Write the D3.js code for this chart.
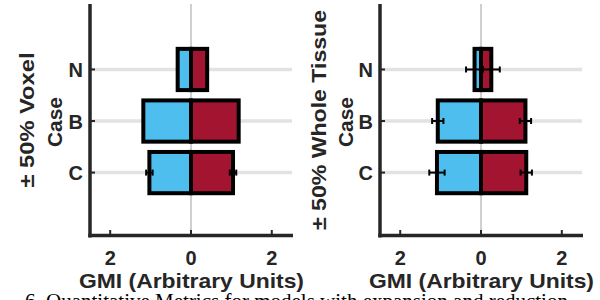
<!DOCTYPE html>
<html>
<head>
<meta charset="utf-8">
<script src="https://cdn.jsdelivr.net/npm/d3@7"></script>
<style>
  body { margin:0; background:#fff; }
  svg { display:block; }
  text { font-family: "Liberation Sans", Arial, sans-serif; font-weight:bold; fill:#262626; }
</style>
</head>
<body>
<svg id="board" width="600" height="300"></svg>
<script>
// data
var cases = ["N", "B", "C"];
var xTicks = [-2, 0, 2];

// left panel : +/- 50% voxel
var voxelLow = [-0.33, -1.18, -1.03];
var voxelHigh = [0.40, 1.18, 1.04];
var voxelLowErr = [0, 0, 0.08];
var voxelHighErr = [0, 0, 0.08];

// right panel : +/- 50% whole tissue
var tissueLow = [-0.16, -1.07, -1.09];
var tissueHigh = [0.255, 1.10, 1.12];
var tissueLowErr = [0.21, 0.14, 0.19];
var tissueHighErr = [0.21, 0.14, 0.14];

var captionText = "6. Quantitative Metrics for models with expansion and reduction";

var blue = "#4DBEEE", red = "#A2142F", ink = "#262626";
var board = d3.select("#board");

function drawPanel(p)
{
  var g = board.append("g");
  var x = d3.scaleLinear().domain([-2.5, 2.5]).range([p.left, p.right]);
  var y = d3.scaleLinear().domain([-1.27, 3.23]).range([4, 236]);
  var half = 0.4;

  // grid lines
  g.selectAll("line.grid").data(cases).enter().append("line")
    .attr("class", "grid")
    .attr("x1", p.left).attr("x2", p.right)
    .attr("y1", function(d, i){ return y(i); })
    .attr("y2", function(d, i){ return y(i); })
    .attr("stroke", "#e2e2e2").attr("stroke-width", 3.5);

  // zero line
  g.append("line")
    .attr("x1", x(0)).attr("x2", x(0))
    .attr("y1", 4).attr("y2", 236)
    .attr("stroke", "#a0a0a0").attr("stroke-width", 1);

  var sides = [
    {vals: p.low, err: p.lowErr, color: blue},
    {vals: p.high, err: p.highErr, color: red}
  ];
  sides.forEach(function(s)
  {
    g.selectAll(null).data(s.vals).enter().append("rect")
      .attr("x", function(d){ return Math.min(x(d), x(0)); })
      .attr("width", function(d){ return Math.abs(x(d) - x(0)); })
      .attr("y", function(d, i){ return y(i - half); })
      .attr("height", y(2 * half) - y(0))
      .attr("fill", s.color)
      .attr("stroke", "#000").attr("stroke-width", 4);
  });

  // error bars
  sides.forEach(function(s)
  {
    s.vals.forEach(function(v, i)
    {
      var e = s.err[i];
      if (e <= 0) return;
      var yy = y(i);
      g.append("line")
        .attr("x1", x(v - e)).attr("x2", x(v + e))
        .attr("y1", yy).attr("y2", yy)
        .attr("stroke", "#000").attr("stroke-width", 2);
      [v - e, v + e].forEach(function(c)
      {
        g.append("line")
          .attr("x1", x(c)).attr("x2", x(c))
          .attr("y1", yy - 3).attr("y2", yy + 3)
          .attr("stroke", "#000").attr("stroke-width", 2);
      });
    });
  });

  // axes
  g.append("line")
    .attr("x1", p.left).attr("x2", p.left).attr("y1", 4).attr("y2", 237.5)
    .attr("stroke", ink).attr("stroke-width", 3.5);
  g.append("line")
    .attr("x1", p.left - 1.75).attr("x2", p.right + 1).attr("y1", 235.5).attr("y2", 235.5)
    .attr("stroke", ink).attr("stroke-width", 3.5);

  // ticks
  g.selectAll(null).data(xTicks).enter().append("line")
    .attr("x1", function(d){ return x(d); }).attr("x2", function(d){ return x(d); })
    .attr("y1", 230).attr("y2", 234)
    .attr("stroke", ink).attr("stroke-width", 2);
  g.selectAll(null).data(cases).enter().append("line")
    .attr("x1", p.left + 1).attr("x2", p.left + 5)
    .attr("y1", function(d, i){ return y(i); }).attr("y2", function(d, i){ return y(i); })
    .attr("stroke", ink).attr("stroke-width", 2);

  // tick labels
  g.selectAll(null).data(xTicks).enter().append("text")
    .attr("x", function(d){ return x(d); }).attr("y", 264.5)
    .attr("text-anchor", "middle").style("font-size", "20px")
    .text(function(d){ return Math.abs(d); });
  g.selectAll(null).data(cases).enter().append("text")
    .attr("x", p.left - 7).attr("y", function(d, i){ return y(i) + 7.5; })
    .attr("text-anchor", "end").style("font-size", "20px")
    .text(function(d){ return d; });

  // axis titles
  g.append("text")
    .attr("x", x(0) - 112).attr("y", 288)
    .style("font-size", "20.5px")
    .attr("textLength", 225).attr("lengthAdjust", "spacingAndGlyphs")
    .text("GMI (Arbitrary Units)");
  g.append("text")
    .attr("transform", "translate(" + p.lab1 + "," + (120 + p.len1 / 2) + ") rotate(-90)")
    .style("font-size", "20px")
    .attr("textLength", p.len1).attr("lengthAdjust", "spacingAndGlyphs")
    .text(p.title);
  g.append("text")
    .attr("transform", "translate(" + p.lab2 + ",147) rotate(-90)")
    .style("font-size", "20px")
    .attr("textLength", 50).attr("lengthAdjust", "spacingAndGlyphs")
    .text("Case");
}

drawPanel({left: 90, right: 292, low: voxelLow, high: voxelHigh,
  lowErr: voxelLowErr, highErr: voxelHighErr,
  title: "\u00b1 50% Voxel", lab1: 33.5, lab2: 62, len1: 135});
drawPanel({left: 380, right: 582, low: tissueLow, high: tissueHigh,
  lowErr: tissueLowErr, highErr: tissueHighErr,
  title: "\u00b1 50% Whole Tissue", lab1: 325.5, lab2: 353, len1: 220});

board.append("text")
  .attr("x", 25).attr("y", 308)
  .style("font-family", "'Liberation Serif', 'Times New Roman', serif")
  .style("font-weight", "normal").style("font-size", "21px").style("fill", "#000")
  .text(captionText);
</script>
</body>
</html>
